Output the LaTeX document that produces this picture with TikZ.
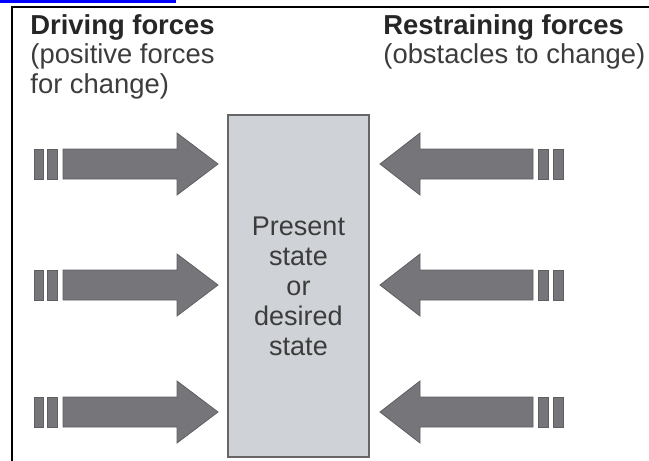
\documentclass[tikz,border=0pt]{standalone}
\usepackage{fontspec}
\setmainfont{Liberation Sans}
\usepackage{xcolor}
\usetikzlibrary{calc}
\definecolor{arrowgray}{RGB}{118,118,122}
\definecolor{arrowedge}{RGB}{95,95,98}
\definecolor{boxgray}{RGB}{207,210,214}
\definecolor{textgray}{RGB}{60,60,60}
\tikzset{
	forcearrow/.style={fill=arrowgray, draw=arrowedge, line width=0.4pt},
	forcebar/.style={fill=arrowgray, draw=arrowedge, line width=0.3pt},
	statebox/.style={fill=boxgray, draw=black!60, line width=0.6pt, align=center,
			minimum width=70.5pt, minimum height=171pt, inner sep=0pt,
			font=\fontsize{13.5}{15}\selectfont, text=textgray},
	heading/.style={align=left, inner sep=0pt, anchor=north west,
			font=\fontsize{13.7}{14.8}\selectfont, text=textgray}
}

\begin{document}
\begin{tikzpicture}[x=0.5pt,y=-0.5pt]
	\useasboundingbox (0,0) rectangle (649,461);
	\fill[blue] (0,0) rectangle (176,3);
	\draw[line width=1pt] (12,461) -- (12,7) -- (649,7);
	\node[heading] (driving) at (30,14) {\textbf{\color{black!85}Driving forces}\\(positive forces\\for change)};
	\node[heading] (restraining) at (383,14) {\textbf{\color{black!85}Restraining forces}\\(obstacles to change)};
	\node[statebox] (state) at (298.5,286) {Present\\state\\or\\desired\\state};
	\foreach \c in {164,285,412}{
		% driving side
		\draw[forcearrow] (63,\c-15) -- (177,\c-15) -- (177,\c-31) -- (218,\c) -- (177,\c+31) -- (177,\c+15) -- (63,\c+15) -- cycle;
		\draw[forcebar] (34,\c-15) rectangle (43,\c+15);
		\draw[forcebar] (47,\c-15) rectangle (57,\c+15);
		% restraining side
		\draw[forcearrow] (533,\c-15) -- (420,\c-15) -- (420,\c-31) -- (380,\c) -- (420,\c+31) -- (420,\c+15) -- (533,\c+15) -- cycle;
		\draw[forcebar] (538,\c-15) rectangle (548,\c+15);
		\draw[forcebar] (553,\c-15) rectangle (563,\c+15);
	}
\end{tikzpicture}
\end{document}
